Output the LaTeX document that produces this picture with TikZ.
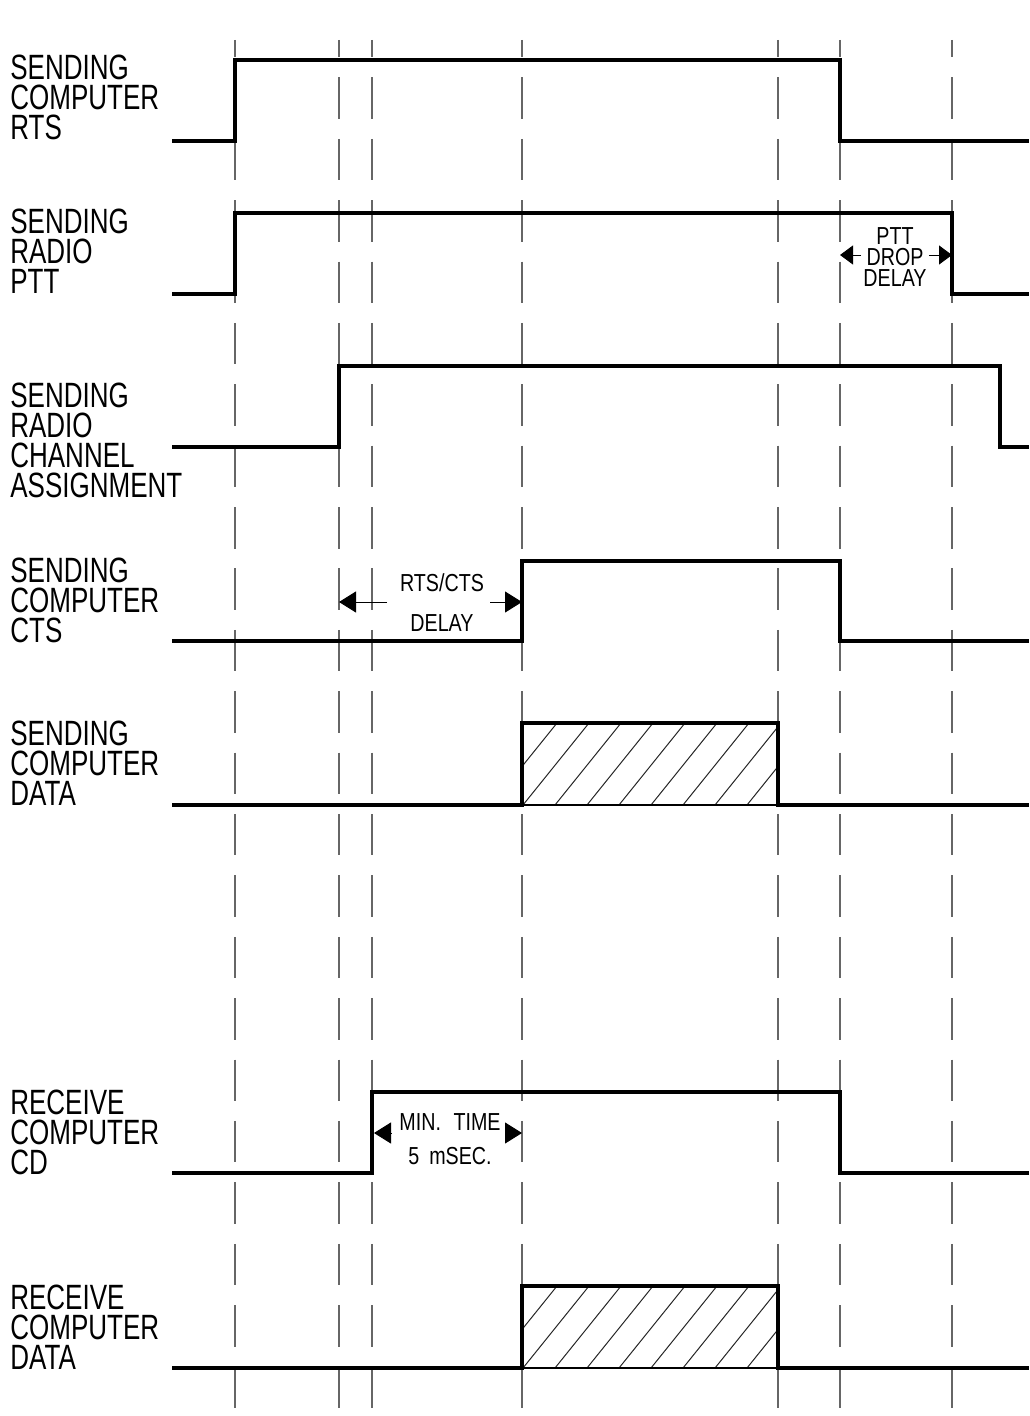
\documentclass[tikz,border=0pt]{standalone}
\usepackage{fontspec}
\setmainfont{Liberation Sans}[FakeStretch=0.74]
\newfontfamily\notefont{Liberation Sans}[FakeStretch=0.8]
\usepackage{tikz}
\usetikzlibrary{arrows.meta, positioning, calc}

\begin{document}
\begin{tikzpicture}[
        x=0.02cm, y=-0.02cm,
        sig/.style={line width=0.08cm, draw=black, line join=miter},
        base/.style={line width=0.035cm, draw=black},
        guide/.style={line width=0.026cm, draw=black!60, dash pattern=on 0.828cm off 0.4cm, dash phase=0.48cm},
        hatch/.style={line width=0.02cm, draw=black!85},
        lbl/.style={anchor=north west, inner sep=0pt, align=left, font=\fontsize{20}{17.07}\selectfont},
        note/.style={inner sep=0pt, align=center},
        dimarr/.style={-{Triangle[length=0.34cm, width=0.42cm]}, line width=0.02cm, draw=black}
    ]
        \useasboundingbox (0,0) rectangle (1029,1416);
        \foreach \x in {235,339,372,522,778,840,952}
            \draw[guide] (\x,40) -- (\x,1410);
        \node[lbl] (rtslbl) at (10,55) {SENDING\\COMPUTER\\RTS};
        \node[lbl] (pttlbl) at (10,209) {SENDING\\RADIO\\PTT};
        \node[lbl] (chanlbl) at (10,383) {SENDING\\RADIO\\CHANNEL\\ASSIGNMENT};
        \node[lbl] (ctslbl) at (10,558) {SENDING\\COMPUTER\\CTS};
        \node[lbl] (sdatalbl) at (10,721) {SENDING\\COMPUTER\\DATA};
        \node[lbl] (cdlbl) at (10,1090) {RECEIVE\\COMPUTER\\CD};
        \node[lbl] (rdatalbl) at (10,1285) {RECEIVE\\COMPUTER\\DATA};
        \draw[sig] (172,141) -- (235,141) -- (235,60) -- (840,60) -- (840,141) -- (1029,141);
        \draw[sig] (172,294) -- (235,294) -- (235,213) -- (952,213) -- (952,294) -- (1029,294);
        \draw[sig] (172,447) -- (339,447) -- (339,366) -- (1000,366) -- (1000,447) -- (1029,447);
        \draw[sig] (172,641) -- (522,641) -- (522,561) -- (840,561) -- (840,641) -- (1029,641);
        \draw[sig] (172,1173) -- (372,1173) -- (372,1092) -- (840,1092) -- (840,1173) -- (1029,1173);
        \foreach \yl in {805,1368} {
            \begin{scope}
                \clip (522,\yl-82) rectangle (778,\yl);
                \foreach \k in {-3,...,8}
                    \draw[hatch] ({523+32*\k},\yl) -- ++(66,-82);
            \end{scope}
            \draw[base] (522,\yl) -- (778,\yl);
            \draw[sig] (172,\yl) -- (522,\yl) -- (522,\yl-82) -- (778,\yl-82) -- (778,\yl) -- (1029,\yl);
        }
        \node[note, font=\notefont\fontsize{14}{11.95}\selectfont] (pttnote) at (895,257) {PTT\\DROP\\DELAY};
        \node[note, font=\notefont\fontsize{14}{22.76}\selectfont] (delaynote) at (442,603) {RTS/CTS\\DELAY};
        \node[note, font=\notefont\fontsize{14}{19.35}\selectfont] (mintimenote) at (450,1139) {MIN.\hspace{0.25cm}TIME\\5\hspace{0.2cm}mSEC.};
        \coordinate (pttL) at (840,255);
        \coordinate (pttR) at (952,255);
        \coordinate (ctsL) at (339,602);
        \coordinate (ctsR) at (522,602);
        \coordinate (minL) at (374,1133);
        \coordinate (minR) at (522,1133);
        \draw[dimarr, -{Triangle[length=0.26cm, width=0.38cm]}] (pttnote.west |- pttL) ++(-2,0) -- (pttL);
        \draw[dimarr, -{Triangle[length=0.26cm, width=0.38cm]}] (pttnote.east |- pttR) ++(2,0) -- (pttR);
        \draw[dimarr] (387,602) -- (ctsL);
        \draw[dimarr] (490,602) -- (ctsR);
        \draw[dimarr] ($(minL)+(17,0)$) -- (minL);
        \draw[dimarr] ($(minR)-(17,0)$) -- (minR);
    \end{tikzpicture}
\end{document}
